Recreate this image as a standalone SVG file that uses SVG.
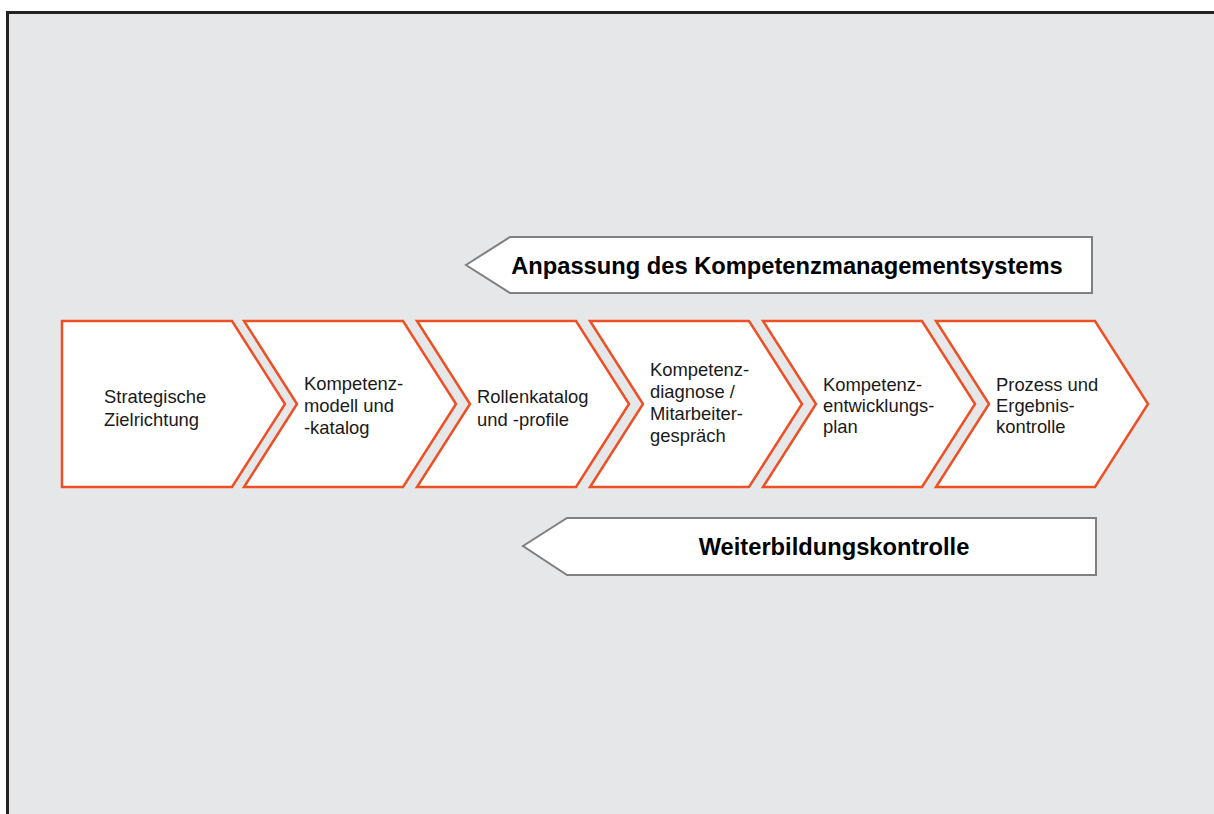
<svg xmlns="http://www.w3.org/2000/svg" width="1214" height="814" viewBox="0 0 1214 814">
<style>
.chev{fill:#ffffff;stroke:#ee4f25;stroke-width:2.5;stroke-linejoin:miter}
.band{fill:#ffffff;stroke:#808080;stroke-width:2}
.t{font-family:"Liberation Sans",Arial,Helvetica,sans-serif;font-size:18.4px;fill:#1a1a1a}
.b{font-family:"Liberation Sans",Arial,Helvetica,sans-serif;font-size:23.7px;font-weight:bold;fill:#000000}
</style>
<rect x="0" y="0" width="1214" height="814" fill="#ffffff"/>
<rect x="7.5" y="12.5" width="1220" height="820" fill="#e6e7e8" stroke="#222222" stroke-width="3"/>
<g id="connectors"></g>
<g id="node-anpassung">
<polygon class="band" points="1092,237 510,237 466,265 510,293 1092,293"/>
<text class="b" x="787" y="274" text-anchor="middle">Anpassung des Kompetenzmanagementsystems</text>
</g>
<g id="node-weiterbildung">
<polygon class="band" points="1096,518 567,518 523,546 567,575 1096,575"/>
<text class="b" x="834" y="555" text-anchor="middle">Weiterbildungskontrolle</text>
</g>
<g id="node-1">
<polygon class="chev" points="62,321 232,321 285,404 232,487 62,487"/>
<text class="t" x="104" y="403">Strategische</text>
<text class="t" x="104" y="426">Zielrichtung</text>
</g>
<g id="node-2">
<polygon class="chev" points="244,321 403,321 456,404 403,487 244,487 297,404"/>
<text class="t" x="304" y="390">Kompetenz-</text>
<text class="t" x="304" y="412">modell und</text>
<text class="t" x="304" y="434">-katalog</text>
</g>
<g id="node-3">
<polygon class="chev" points="417,321 576,321 629,404 576,487 417,487 470,404"/>
<text class="t" x="477" y="403">Rollenkatalog</text>
<text class="t" x="477" y="426">und -profile</text>
</g>
<g id="node-4">
<polygon class="chev" points="590,321 749,321 802,404 749,487 590,487 643,404"/>
<text class="t" x="650" y="376">Kompetenz-</text>
<text class="t" x="650" y="398">diagnose /</text>
<text class="t" x="650" y="420">Mitarbeiter-</text>
<text class="t" x="650" y="442">gespräch</text>
</g>
<g id="node-5">
<polygon class="chev" points="763,321 922,321 975,404 922,487 763,487 816,404"/>
<text class="t" x="823" y="391">Kompetenz-</text>
<text class="t" x="823" y="412">entwicklungs-</text>
<text class="t" x="823" y="433">plan</text>
</g>
<g id="node-6">
<polygon class="chev" points="936,321 1095,321 1148,404 1095,487 936,487 989,404"/>
<text class="t" x="996" y="391">Prozess und</text>
<text class="t" x="996" y="412">Ergebnis-</text>
<text class="t" x="996" y="433">kontrolle</text>
</g>
</svg>
